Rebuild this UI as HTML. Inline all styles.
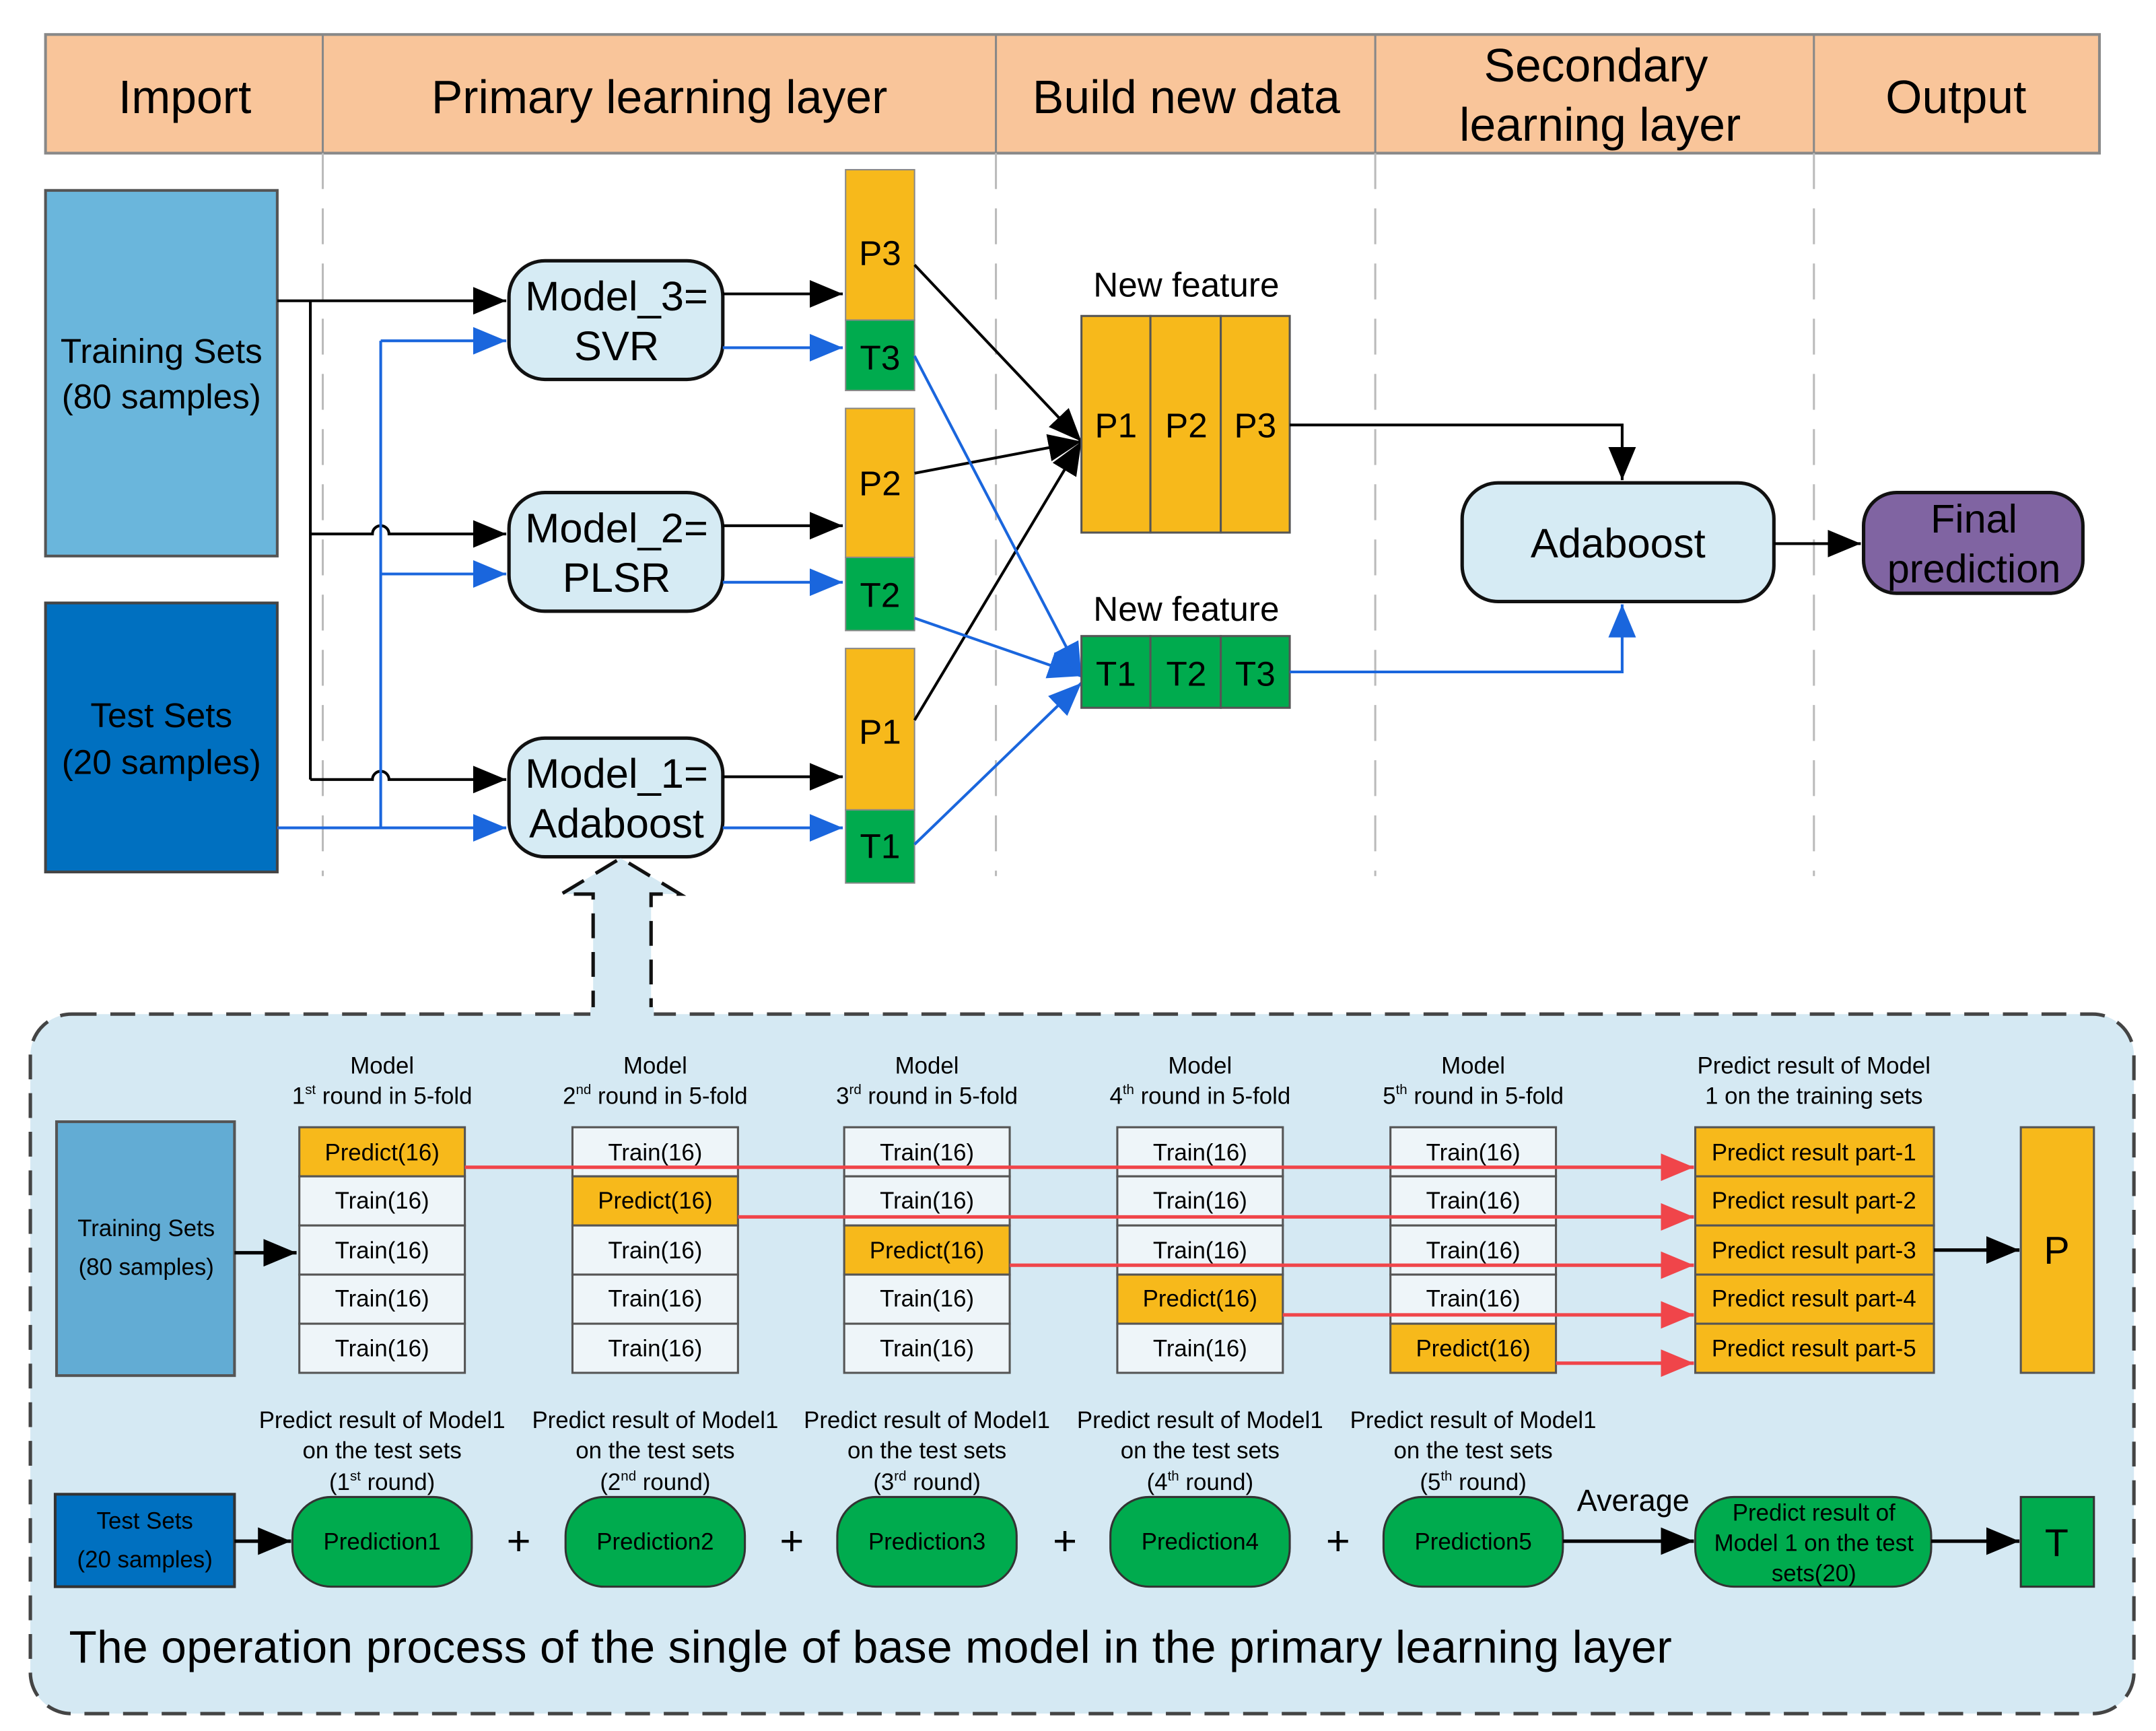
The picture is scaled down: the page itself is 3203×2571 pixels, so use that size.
<!DOCTYPE html>
<html><head><meta charset="utf-8"><style>
html,body{margin:0;padding:0;background:#fff}
svg{display:block}
text{font-family:"Liberation Sans Narrow","Liberation Sans",sans-serif;fill:#000}
</style></head><body>
<svg width="3203" height="2571" viewBox="0 0 1563 1254.6" preserveAspectRatio="none" xmlns="http://www.w3.org/2000/svg">
<defs>
<marker id="ab" markerUnits="userSpaceOnUse" markerWidth="24" markerHeight="20" refX="24" refY="10" orient="auto"><path d="M0,0 L24,10 L0,20 z" fill="#000"/></marker>
<marker id="au" markerUnits="userSpaceOnUse" markerWidth="24" markerHeight="20" refX="24" refY="10" orient="auto"><path d="M0,0 L24,10 L0,20 z" fill="#1a66dd"/></marker>
<marker id="ar" markerUnits="userSpaceOnUse" markerWidth="24" markerHeight="20" refX="24" refY="10" orient="auto"><path d="M0,0 L24,10 L0,20 z" fill="#f0454a"/></marker>
</defs>
<!-- header -->
<rect x="33" y="25" width="1489" height="86" fill="#f9c59a" stroke="#888" stroke-width="2"/>
<g stroke="#888" stroke-width="1.5"><line x1="234" y1="25" x2="234" y2="111"/><line x1="722" y1="25" x2="722" y2="111"/><line x1="997" y1="25" x2="997" y2="111"/><line x1="1315" y1="25" x2="1315" y2="111"/></g>
<g font-size="34" text-anchor="middle">
<text x="134" y="82">Import</text>
<text x="478" y="82">Primary learning layer</text>
<text x="860" y="82">Build new data</text>
<text x="1157" y="59">Secondary</text>
<text x="1160" y="102">learning layer</text>
<text x="1418" y="82">Output</text>
</g>
<g stroke="#bbb" stroke-width="1.5" stroke-dasharray="26,14"><line x1="234" y1="111" x2="234" y2="635"/><line x1="722" y1="111" x2="722" y2="635"/><line x1="997" y1="111" x2="997" y2="635"/><line x1="1315" y1="111" x2="1315" y2="635"/></g>
<!-- inputs -->
<rect x="33" y="138" width="168" height="265" fill="#6ab6dc" stroke="#555" stroke-width="2"/>
<text x="117" y="263" font-size="25" text-anchor="middle">Training Sets</text>
<text x="117" y="296" font-size="25" text-anchor="middle">(80 samples)</text>
<rect x="33" y="437" width="168" height="195" fill="#0070c0" stroke="#444" stroke-width="2"/>
<text x="117" y="527" font-size="25" text-anchor="middle">Test Sets</text>
<text x="117" y="561" font-size="25" text-anchor="middle">(20 samples)</text>
<!-- input connectors -->
<g fill="none" stroke="#000" stroke-width="2">
<line x1="201" y1="218" x2="367" y2="218" marker-end="url(#ab)"/>
<line x1="225" y1="218" x2="225" y2="565"/>
<path d="M225,387 H270 a6,6 0 0 1 12,0 H367" marker-end="url(#ab)"/>
<path d="M225,565 H270 a6,6 0 0 1 12,0 H367" marker-end="url(#ab)"/>
</g>
<g fill="none" stroke="#1a66dd" stroke-width="2">
<line x1="201" y1="600" x2="367" y2="600" marker-end="url(#au)"/>
<line x1="276" y1="600" x2="276" y2="247"/>
<line x1="276" y1="247" x2="367" y2="247" marker-end="url(#au)"/>
<line x1="276" y1="416" x2="367" y2="416" marker-end="url(#au)"/>
</g>
<!-- models -->
<g fill="#d6ebf4" stroke="#111" stroke-width="2.5">
<rect x="369" y="189" width="155" height="86" rx="26"/>
<rect x="369" y="357" width="155" height="86" rx="26"/>
<rect x="369" y="535" width="155" height="86" rx="26"/>
</g>
<g font-size="30" text-anchor="middle">
<text x="447" y="225">Model_3=</text><text x="447" y="261">SVR</text>
<text x="447" y="393">Model_2=</text><text x="447" y="429">PLSR</text>
<text x="447" y="571">Model_1=</text><text x="447" y="607">Adaboost</text>
</g>
<g stroke="#000" stroke-width="2"><line x1="524" y1="213" x2="611" y2="213" marker-end="url(#ab)"/><line x1="524" y1="381" x2="611" y2="381" marker-end="url(#ab)"/><line x1="524" y1="563" x2="611" y2="563" marker-end="url(#ab)"/></g>
<g stroke="#1a66dd" stroke-width="2"><line x1="524" y1="252" x2="611" y2="252" marker-end="url(#au)"/><line x1="524" y1="422" x2="611" y2="422" marker-end="url(#au)"/><line x1="524" y1="600" x2="611" y2="600" marker-end="url(#au)"/></g>
<!-- P/T columns -->
<g stroke="#888" stroke-width="1">
<rect x="613" y="123" width="50" height="109" fill="#f7b91b"/><rect x="613" y="232" width="50" height="51" fill="#00ab4e"/>
<rect x="613" y="296" width="50" height="108" fill="#f7b91b"/><rect x="613" y="404" width="50" height="53" fill="#00ab4e"/>
<rect x="613" y="470" width="50" height="117" fill="#f7b91b"/><rect x="613" y="587" width="50" height="53" fill="#00ab4e"/>
</g>
<g font-size="25" text-anchor="middle">
<text x="638" y="192">P3</text><text x="638" y="268">T3</text>
<text x="638" y="359">P2</text><text x="638" y="440">T2</text>
<text x="638" y="539">P1</text><text x="638" y="622">T1</text>
</g>
<g stroke="#000" stroke-width="2"><line x1="663" y1="192" x2="784" y2="320" marker-end="url(#ab)"/><line x1="663" y1="343" x2="784" y2="320" marker-end="url(#ab)"/><line x1="663" y1="522" x2="784" y2="320" marker-end="url(#ab)"/></g>
<g stroke="#1a66dd" stroke-width="2"><line x1="663" y1="258" x2="784" y2="490" marker-end="url(#au)"/><line x1="663" y1="448" x2="784" y2="490" marker-end="url(#au)"/><line x1="663" y1="612" x2="784" y2="495" marker-end="url(#au)"/></g>
<!-- new features -->
<text x="860" y="215" font-size="25" text-anchor="middle">New feature</text>
<g stroke="#555" stroke-width="1.5" fill="#f7b91b"><rect x="784" y="229" width="50" height="157"/><rect x="834" y="229" width="51" height="157"/><rect x="885" y="229" width="50" height="157"/></g>
<g font-size="25" text-anchor="middle"><text x="809" y="317">P1</text><text x="860" y="317">P2</text><text x="910" y="317">P3</text></g>
<text x="860" y="450" font-size="25" text-anchor="middle">New feature</text>
<g stroke="#555" stroke-width="1.5" fill="#00ab4e"><rect x="784" y="461" width="50" height="52"/><rect x="834" y="461" width="51" height="52"/><rect x="885" y="461" width="50" height="52"/></g>
<g font-size="25" text-anchor="middle"><text x="809" y="497">T1</text><text x="860" y="497">T2</text><text x="910" y="497">T3</text></g>
<path d="M935,308 H1176 V348" fill="none" stroke="#000" stroke-width="2" marker-end="url(#ab)"/>
<path d="M935,487 H1176 V438" fill="none" stroke="#1a66dd" stroke-width="2" marker-end="url(#au)"/>
<rect x="1060" y="350" width="226" height="86" rx="26" fill="#d6ebf4" stroke="#111" stroke-width="2.5"/>
<text x="1173" y="404" font-size="30" text-anchor="middle">Adaboost</text>
<line x1="1286" y1="394" x2="1349" y2="394" stroke="#000" stroke-width="2" marker-end="url(#ab)"/>
<rect x="1351" y="357" width="159" height="73" rx="24" fill="#8064a2" stroke="#111" stroke-width="2.5"/>
<text x="1431" y="386" font-size="29" text-anchor="middle">Final</text>
<text x="1431" y="422" font-size="29" text-anchor="middle">prediction</text>
<!-- bottom panel -->
<rect x="22" y="735" width="1525" height="507" rx="30" fill="#d5e9f3" stroke="#444" stroke-width="2.5" stroke-dasharray="18,10"/>
<path d="M430,736 V648 H407 L450,622 L493,648 H472 V736" fill="#d5e9f3" stroke="#111" stroke-width="2.5" stroke-dasharray="18,10"/>
<rect x="428" y="730" width="46" height="10" fill="#d5e9f3"/>
<rect x="41" y="813" width="129" height="184" fill="#62acd4" stroke="#555" stroke-width="2"/>
<text x="106" y="896" font-size="17" text-anchor="middle">Training Sets</text>
<text x="106" y="924" font-size="17" text-anchor="middle">(80 samples)</text>
<line x1="170" y1="908" x2="215" y2="908" stroke="#000" stroke-width="2.5" marker-end="url(#ab)"/>
<g font-size="17" text-anchor="middle">
<text x="277" y="778">Model</text><text x="277" y="800"><tspan>1</tspan><tspan font-size="10" dy="-7">st</tspan><tspan dy="7"> round in 5-fold</tspan></text>
<text x="475" y="778">Model</text><text x="475" y="800"><tspan>2</tspan><tspan font-size="10" dy="-7">nd</tspan><tspan dy="7"> round in 5-fold</tspan></text>
<text x="672" y="778">Model</text><text x="672" y="800"><tspan>3</tspan><tspan font-size="10" dy="-7">rd</tspan><tspan dy="7"> round in 5-fold</tspan></text>
<text x="870" y="778">Model</text><text x="870" y="800"><tspan>4</tspan><tspan font-size="10" dy="-7">th</tspan><tspan dy="7"> round in 5-fold</tspan></text>
<text x="1068" y="778">Model</text><text x="1068" y="800"><tspan>5</tspan><tspan font-size="10" dy="-7">th</tspan><tspan dy="7"> round in 5-fold</tspan></text>
<text x="1315" y="778">Predict result of Model</text><text x="1315" y="800">1 on the training sets</text>
</g>
<g stroke="#555" stroke-width="1.5">
<rect x="217" y="817" width="120" height="35.6" fill="#f7b91b"/><rect x="217" y="852.6" width="120" height="35.6" fill="#eef5f9"/><rect x="217" y="888.2" width="120" height="35.6" fill="#eef5f9"/><rect x="217" y="923.8" width="120" height="35.6" fill="#eef5f9"/><rect x="217" y="959.4" width="120" height="35.6" fill="#eef5f9"/>
<rect x="415" y="817" width="120" height="35.6" fill="#eef5f9"/><rect x="415" y="852.6" width="120" height="35.6" fill="#f7b91b"/><rect x="415" y="888.2" width="120" height="35.6" fill="#eef5f9"/><rect x="415" y="923.8" width="120" height="35.6" fill="#eef5f9"/><rect x="415" y="959.4" width="120" height="35.6" fill="#eef5f9"/>
<rect x="612" y="817" width="120" height="35.6" fill="#eef5f9"/><rect x="612" y="852.6" width="120" height="35.6" fill="#eef5f9"/><rect x="612" y="888.2" width="120" height="35.6" fill="#f7b91b"/><rect x="612" y="923.8" width="120" height="35.6" fill="#eef5f9"/><rect x="612" y="959.4" width="120" height="35.6" fill="#eef5f9"/>
<rect x="810" y="817" width="120" height="35.6" fill="#eef5f9"/><rect x="810" y="852.6" width="120" height="35.6" fill="#eef5f9"/><rect x="810" y="888.2" width="120" height="35.6" fill="#eef5f9"/><rect x="810" y="923.8" width="120" height="35.6" fill="#f7b91b"/><rect x="810" y="959.4" width="120" height="35.6" fill="#eef5f9"/>
<rect x="1008" y="817" width="120" height="35.6" fill="#eef5f9"/><rect x="1008" y="852.6" width="120" height="35.6" fill="#eef5f9"/><rect x="1008" y="888.2" width="120" height="35.6" fill="#eef5f9"/><rect x="1008" y="923.8" width="120" height="35.6" fill="#eef5f9"/><rect x="1008" y="959.4" width="120" height="35.6" fill="#f7b91b"/>
<rect x="1229" y="817" width="173" height="35.6" fill="#f7b91b"/><rect x="1229" y="852.6" width="173" height="35.6" fill="#f7b91b"/><rect x="1229" y="888.2" width="173" height="35.6" fill="#f7b91b"/><rect x="1229" y="923.8" width="173" height="35.6" fill="#f7b91b"/><rect x="1229" y="959.4" width="173" height="35.6" fill="#f7b91b"/>
<rect x="1465" y="817" width="53" height="178" fill="#f7b91b"/>
</g>
<g font-size="17" text-anchor="middle">
<text x="277" y="841">Predict(16)</text><text x="277" y="876">Train(16)</text><text x="277" y="912">Train(16)</text><text x="277" y="947">Train(16)</text><text x="277" y="983">Train(16)</text>
<text x="475" y="841">Train(16)</text><text x="475" y="876">Predict(16)</text><text x="475" y="912">Train(16)</text><text x="475" y="947">Train(16)</text><text x="475" y="983">Train(16)</text>
<text x="672" y="841">Train(16)</text><text x="672" y="876">Train(16)</text><text x="672" y="912">Predict(16)</text><text x="672" y="947">Train(16)</text><text x="672" y="983">Train(16)</text>
<text x="870" y="841">Train(16)</text><text x="870" y="876">Train(16)</text><text x="870" y="912">Train(16)</text><text x="870" y="947">Predict(16)</text><text x="870" y="983">Train(16)</text>
<text x="1068" y="841">Train(16)</text><text x="1068" y="876">Train(16)</text><text x="1068" y="912">Train(16)</text><text x="1068" y="947">Train(16)</text><text x="1068" y="983">Predict(16)</text>
<text x="1315" y="841">Predict result part-1</text><text x="1315" y="876">Predict result part-2</text><text x="1315" y="912">Predict result part-3</text><text x="1315" y="947">Predict result part-4</text><text x="1315" y="983">Predict result part-5</text>
</g>
<text x="1491" y="916" font-size="28" text-anchor="middle">P</text>
<g stroke="#f0454a" stroke-width="2.5">
<line x1="337" y1="846" x2="1228" y2="846" marker-end="url(#ar)"/>
<line x1="535" y1="882" x2="1228" y2="882" marker-end="url(#ar)"/>
<line x1="732" y1="917" x2="1228" y2="917" marker-end="url(#ar)"/>
<line x1="930" y1="953" x2="1228" y2="953" marker-end="url(#ar)"/>
<line x1="1128" y1="988" x2="1228" y2="988" marker-end="url(#ar)"/>
</g>
<line x1="1402" y1="906" x2="1464" y2="906" stroke="#000" stroke-width="2.5" marker-end="url(#ab)"/>
<!-- test row -->
<rect x="40" y="1083" width="130" height="67" fill="#0070c0" stroke="#333" stroke-width="2"/>
<text x="105" y="1108" font-size="17" text-anchor="middle">Test Sets</text>
<text x="105" y="1136" font-size="17" text-anchor="middle">(20 samples)</text>
<line x1="170" y1="1117" x2="211" y2="1117" stroke="#000" stroke-width="2.5" marker-end="url(#ab)"/>
<g font-size="17" text-anchor="middle">
<text x="277" y="1035">Predict result of Model1</text><text x="277" y="1057">on the test sets</text><text x="277" y="1080">(1<tspan font-size="10" dy="-7">st</tspan><tspan dy="7"> round)</tspan></text>
<text x="475" y="1035">Predict result of Model1</text><text x="475" y="1057">on the test sets</text><text x="475" y="1080">(2<tspan font-size="10" dy="-7">nd</tspan><tspan dy="7"> round)</tspan></text>
<text x="672" y="1035">Predict result of Model1</text><text x="672" y="1057">on the test sets</text><text x="672" y="1080">(3<tspan font-size="10" dy="-7">rd</tspan><tspan dy="7"> round)</tspan></text>
<text x="870" y="1035">Predict result of Model1</text><text x="870" y="1057">on the test sets</text><text x="870" y="1080">(4<tspan font-size="10" dy="-7">th</tspan><tspan dy="7"> round)</tspan></text>
<text x="1068" y="1035">Predict result of Model1</text><text x="1068" y="1057">on the test sets</text><text x="1068" y="1080">(5<tspan font-size="10" dy="-7">th</tspan><tspan dy="7"> round)</tspan></text>
</g>
<g fill="#00ab4e" stroke="#333" stroke-width="1.5">
<rect x="212" y="1085" width="130" height="65" rx="28"/>
<rect x="410" y="1085" width="130" height="65" rx="28"/>
<rect x="607" y="1085" width="130" height="65" rx="28"/>
<rect x="805" y="1085" width="130" height="65" rx="28"/>
<rect x="1003" y="1085" width="130" height="65" rx="28"/>
<rect x="1229" y="1085" width="171" height="65" rx="28"/>
<rect x="1465" y="1085" width="53" height="65" rx="0"/>
</g>
<g font-size="17" text-anchor="middle">
<text x="277" y="1123">Prediction1</text><text x="475" y="1123">Prediction2</text><text x="672" y="1123">Prediction3</text><text x="870" y="1123">Prediction4</text><text x="1068" y="1123">Prediction5</text>
<text x="1315" y="1102">Predict result of</text><text x="1315" y="1124">Model 1 on the test</text><text x="1315" y="1146">sets(20)</text>
</g>
<g font-size="30" text-anchor="middle"><text x="376" y="1127">+</text><text x="574" y="1127">+</text><text x="772" y="1127">+</text><text x="970" y="1127">+</text></g>
<text x="1184" y="1095" font-size="22" text-anchor="middle">Average</text>
<line x1="1133" y1="1117" x2="1228" y2="1117" stroke="#000" stroke-width="2.5" marker-end="url(#ab)"/>
<line x1="1400" y1="1117" x2="1464" y2="1117" stroke="#000" stroke-width="2.5" marker-end="url(#ab)"/>
<text x="1491" y="1128" font-size="28" text-anchor="middle">T</text>
<text x="50" y="1205" font-size="33" textLength="1162">The operation process of the single of base model in the primary learning layer</text>
</svg>
</body></html>
